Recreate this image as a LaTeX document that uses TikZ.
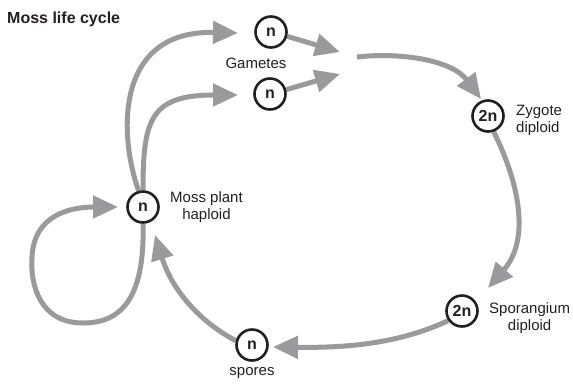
\documentclass[tikz,border=0pt]{standalone}
\usepackage{fontspec}
\setmainfont{Liberation Sans}
\usetikzlibrary{arrows.meta,backgrounds}
\definecolor{arrowgray}{HTML}{9A9A9C}
\definecolor{ink}{HTML}{231F20}
\begin{document}
\begin{tikzpicture}[x=1pt,y=-1pt,
  stage/.style={circle,draw=ink,line width=2.6pt,fill=white,minimum size=31pt,inner sep=0pt,font=\fontsize{16}{16}\selectfont\bfseries,text=ink},
  lbl/.style={font=\fontsize{15}{17}\selectfont,text=ink,inner sep=0pt,align=center},
  flow/.style={draw=arrowgray,line width=5pt,-{Triangle[length=25pt,width=22pt]}},
  plain/.style={draw=arrowgray,line width=5pt}]
\useasboundingbox (0,0) rectangle (573,384);
% stages
\node[stage] (gtop) at (271,32) {n};
\node[stage] (gbot) at (270,94) {n};
\node[stage] (zyg) at (488,116) {2n};
\node[stage] (spor) at (462,311) {2n};
\node[stage] (spores) at (252,345) {n};
\node[stage] (moss) at (143,207) {n};
% labels
\node[lbl,anchor=west,font=\fontsize{16}{16}\selectfont\bfseries] (title) at (7,19) {Moss life cycle};
\node[lbl] (gl) at (256,63) {Gametes};
\node[lbl,anchor=west,align=left] (zl) at (516,120) {Zygote\\diploid};
\node[lbl,anchor=west] (sl) at (489,318) {Sporangium\\diploid};
\node[lbl,anchor=west] (ml) at (170,207) {Moss plant\\haploid};
\node[lbl] (spl) at (252,373) {spores};
% free ends
\coordinate (tgt1) at (238,33);
\coordinate (tgt2) at (238,95);
\coordinate (j1) at (340,52);
\coordinate (j2) at (340,74);
\coordinate (jout) at (357,57);
\coordinate (tz) at (481,99);
\coordinate (ts) at (488,288);
\coordinate (tsp) at (273,347);
\coordinate (tm) at (155,235);
\coordinate (tloop) at (118,207);
\begin{scope}[on background layer]
\draw[flow] (moss.105) .. controls (120,140) and (112,30) .. (tgt1);
\draw[flow] (moss.north) .. controls (143,120) and (150,95) .. (tgt2);
\draw[flow] (moss.south) .. controls (145,300) and (120,323) .. (83,323)
   .. controls (40,323) and (30,285) .. (32,257)
   .. controls (34,215) and (70,207) .. (tloop);
\draw[flow] (gtop.-15) -- (j1);
\draw[flow] (gbot.15) -- (j2);
\draw[flow] (jout) .. controls (400,52) and (452,60) .. (tz);
\draw[flow] (zyg.-70) .. controls (520,185) and (530,240) .. (ts);
\draw[flow] (spor.-145) .. controls (400,343) and (350,348) .. (tsp);
\draw[flow] (spores.165) .. controls (200,322) and (172,290) .. (tm);
\end{scope}
\end{tikzpicture}
\end{document}
